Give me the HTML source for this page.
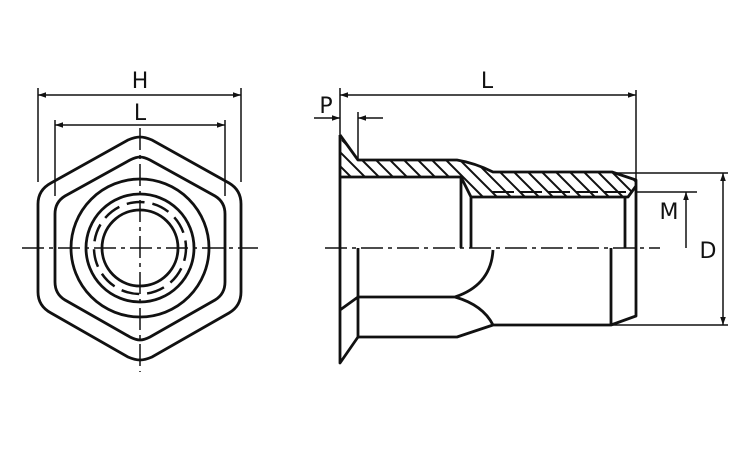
<!DOCTYPE html>
<html><head><meta charset="utf-8"><style>body{margin:0;background:#fff}svg{display:block}text{font-family:"DejaVu Sans","Liberation Sans",sans-serif;font-size:22px;fill:#111}</style></head><body>
<svg width="750" height="450" viewBox="0 0 750 450" xmlns="http://www.w3.org/2000/svg">
<defs>
<marker id="a" viewBox="0 0 10 10" refX="10" refY="5" markerWidth="10" markerHeight="8" markerUnits="userSpaceOnUse" orient="auto-start-reverse"><path d="M0,1.5L10,5L0,8.5z" fill="#111"/></marker>
<clipPath id="h1"><path d="M340,135 L358,160 L457,160 Q475,163 493,172 L612,172 L636,180 L636,186 L628,197 L471,197 L461,180 L461,177 L340,177 Z"/></clipPath>
</defs>
<g stroke="#111" fill="none">
<!-- center lines -->
<path d="M22,248H258M325,248H660" stroke-width="1.5" stroke-dasharray="22,5,4,5"/>
<path d="M140,128V372" stroke-width="1.5" stroke-dasharray="22,5,4,5"/>
<!-- left view -->
<g stroke-width="2.8">
<path d="M140,137 Q145,137 152,140 L229,183 Q241,190 241,204 L241,292 Q241,306 229,313 L152,357 Q145,360 140,360 Q135,360 128,357 L51,313 Q38,306 38,292 L38,204 Q38,190 51,183 L128,140 Q135,137 140,137Z"/>
<path d="M140,157 Q144,157 150,160 L215,196 Q225,202 225,214 L225,282 Q225,294 215,300 L150,337 Q144,340 140,340 Q136,340 130,337 L65,300 Q55,294 55,282 L55,214 Q55,202 65,196 L130,160 Q136,157 140,157Z"/>
<circle cx="140" cy="248" r="69"/>
<circle cx="140" cy="248" r="54"/>
<circle cx="140" cy="248" r="38"/>
<circle cx="140" cy="248" r="46" stroke-width="2.5" stroke-dasharray="18,8" stroke-dashoffset="5"/>
</g>
<g stroke-width="1.5">
<path d="M38,88V182M241,88V182M55,120V196M225,120V196"/>
<path d="M38,95H241" marker-start="url(#a)" marker-end="url(#a)"/>
<path d="M55,125H225" marker-start="url(#a)" marker-end="url(#a)"/>
</g>
<!-- right view hatch -->
<g clip-path="url(#h1)" stroke-width="2">
<path d="M300,140l60,60M314,140l60,60M328,140l60,60M342,140l60,60M356,140l60,60M370,140l60,60M384,140l60,60M398,140l60,60M412,140l60,60M426,140l60,60M440,140l60,60M454,140l60,60M468,140l60,60M482,140l60,60M496,140l60,60M510,140l60,60M524,140l60,60M538,140l60,60M552,140l60,60M566,140l60,60M580,140l60,60M594,140l60,60M608,140l60,60M622,140l60,60"/>
</g>
<g stroke-width="2.8" stroke-linejoin="round">
<path d="M340,135 L358,160 L457,160 Q475,163 493,172 L612,172 L636,180 L636,248"/>
<path d="M340,135V363 L358,337 M340,310 L358,297"/>
<path d="M340,177H461V248 M461,177 L471,197 L628,197 L636,186 M471,197V248 M625,197V248"/>
<path d="M492,192H630" stroke-width="2" stroke-dasharray="22,6"/>
<path d="M358,248V337 M358,297H455 Q491,285 493,250 M455,297 Q483,305 493,325 H611 L636,316 V248 M611,248V325 M358,337H457 L493,325"/>
</g>
<g stroke-width="1.5">
<path d="M340,88V135M636,90V180M358,112V160"/>
<path d="M340,95H636" marker-start="url(#a)" marker-end="url(#a)"/>
<path d="M314,118H340" marker-end="url(#a)"/>
<path d="M383,118H358" marker-end="url(#a)"/>
<path d="M617,173H728M612,325H728M636,192H697"/>
<path d="M723,173V325" marker-start="url(#a)" marker-end="url(#a)"/>
<path d="M686,248V192" marker-end="url(#a)"/>
</g>
</g>
<text x="140" y="88" text-anchor="middle">H</text>
<text x="140" y="120" text-anchor="middle">L</text>
<text x="487" y="88" text-anchor="middle">L</text>
<text x="326" y="113" text-anchor="middle">P</text>
<text x="669" y="219" text-anchor="middle">M</text>
<text x="708" y="258" text-anchor="middle">D</text>
</svg>
</body></html>
